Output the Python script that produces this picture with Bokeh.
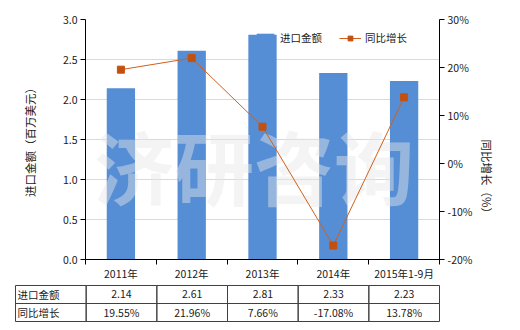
import math
from bokeh.plotting import figure
from bokeh.models import (Range1d, LinearAxis, FixedTicker, PrintfTickFormatter,
                          NumeralTickFormatter, Legend, LegendItem, ColumnDataSource)
from bokeh.core.properties import value
from bokeh.embed import file_html
from bokeh.resources import INLINE

categories = ["2011年", "2012年", "2013年", "2014年", "2015年1-9月"]
import_value = [2.14, 2.61, 2.81, 2.33, 2.23]
growth_pct = [19.55, 21.96, 7.66, -17.08, 13.78]
value_labels = ["2.14", "2.61", "2.81", "2.33", "2.23"]
growth_labels = ["19.55%", "21.96%", "7.66%", "-17.08%", "13.78%"]
row_names = ["进口金额", "同比增长"]

FONT = "Noto Sans CJK SC"
BAR = "#558ed5"
LINE = "#d0601c"
MARK = "#c4500f"
TXT = "#1a1a1a"

n = len(categories)
xs = [i + 0.5 for i in range(n)]

p = figure(width=520, height=283, output_backend="svg", toolbar_location=None,
           x_range=Range1d(0, n), y_range=Range1d(0, 3),
           min_border_left=85, min_border_right=81, min_border_top=19,
           min_border_bottom=24)
p.outline_line_color = None
p.extra_y_ranges = {"pct": Range1d(-20, 30)}

src = ColumnDataSource(dict(x=xs, v=import_value, g=growth_pct))
bars = p.vbar(x="x", top="v", width=0.4, source=src, fill_color=BAR, line_color=None)

# watermark
p.text(x=[2.38], y=[1.2], text=["济研咨询"], text_font=value(FONT),
       text_font_size="80px", text_font_style="bold", text_align="center",
       text_baseline="middle", text_color="#e6e6e6", text_alpha=0.45)

line = p.line(x="x", y="g", source=src, y_range_name="pct", line_color=LINE, line_width=1)
marks = p.scatter(x="x", y="g", source=src, y_range_name="pct", marker="square",
                  size=7, fill_color=MARK, line_color=MARK)

# x axis
xa = p.xaxis[0]
xa.ticker = FixedTicker(ticks=xs, minor_ticks=list(range(n + 1)))
xa.major_label_overrides = {x: c for x, c in zip(xs, categories)}
xa.major_tick_out = 0
xa.major_tick_in = 0
xa.minor_tick_out = 5
xa.minor_tick_in = 0
xa.major_label_standoff = 1

# left axis
ya = p.yaxis[0]
ya.ticker = FixedTicker(ticks=[0, 0.5, 1.0, 1.5, 2.0, 2.5, 3.0])
ya.formatter = NumeralTickFormatter(format="0.0")
ya.axis_label = "进口金额（百万美元）"
ya.major_tick_out = 5
ya.major_tick_in = 0
ya.minor_tick_out = 0
ya.minor_tick_in = 0
ya.major_label_standoff = 3
ya.axis_label_standoff = 22

ra = LinearAxis(y_range_name="pct", ticker=FixedTicker(ticks=[-20, -10, 0, 10, 20, 30]),
                formatter=PrintfTickFormatter(format="%d%%"), axis_label="同比增长（%）")
ra.major_tick_out = 5
ra.major_tick_in = 0
ra.minor_tick_out = 0
ra.minor_tick_in = 0
ra.major_label_standoff = 3
ra.axis_label_standoff = 12
ra.axis_label_orientation = -math.pi / 2
p.add_layout(ra, "right")

for ax in [xa, ya, ra]:
    ax.axis_line_color = "black"
    ax.major_tick_line_color = "black"
    ax.minor_tick_line_color = "black"
    ax.major_label_text_font = FONT
    ax.major_label_text_font_size = "10.5px"
    ax.major_label_text_color = TXT
    ax.axis_label_text_font = FONT
    ax.axis_label_text_font_size = "11.5px"
    ax.axis_label_text_font_style = "normal"
    ax.axis_label_text_color = TXT

p.xgrid.grid_line_color = None
p.ygrid.ticker = FixedTicker(ticks=[0.5, 1.0, 1.5, 2.0, 2.5, 3.0])
p.ygrid.grid_line_color = "#d9d9d9"
p.ygrid.grid_line_width = 1

legend = Legend(items=[LegendItem(label="进口金额", renderers=[bars]),
                       LegendItem(label="同比增长", renderers=[line, marks])],
                orientation="horizontal", location=(169, 214),
                glyph_width=22, glyph_height=12, label_standoff=4, spacing=17,
                padding=0, margin=0, border_line_color=None,
                background_fill_alpha=0, label_text_font=FONT,
                label_text_font_size="10.5px", label_text_color=TXT)
p.add_layout(legend, "center")

# table (separate root, first column spans x = -1..0)
t = figure(width=520, height=47, output_backend="svg", toolbar_location=None,
           x_range=Range1d(-1 - 0.014, n + 0.014), y_range=Range1d(-0.055, 2.055),
           min_border_left=14, min_border_right=80, min_border_top=1, min_border_bottom=8)
t.axis.visible = False
t.grid.visible = False
t.outline_line_color = None

cx, cy = [], []
for r in range(2):
    for c in range(-1, n):
        cx.append(c + 0.5)
        cy.append(1.5 - r)
t.rect(x=cx, y=cy, width=1, height=1, fill_color=None, line_color="#404040", line_width=1)

t.text(x=[-0.97, -0.97], y=[1.5, 0.5], text=row_names, text_font=value(FONT),
       text_font_size="10.5px", text_align="left", text_baseline="middle", text_color=TXT)
t.text(x=xs, y=[1.5] * n, text=value_labels, text_font=value(FONT),
       text_font_size="10.5px", text_align="center", text_baseline="middle", text_color=TXT)
t.text(x=xs, y=[0.5] * n, text=growth_labels, text_font=value(FONT),
       text_font_size="10.5px", text_align="center", text_baseline="middle", text_color=TXT)

open("out.html", "w").write(file_html([p, t], INLINE))
